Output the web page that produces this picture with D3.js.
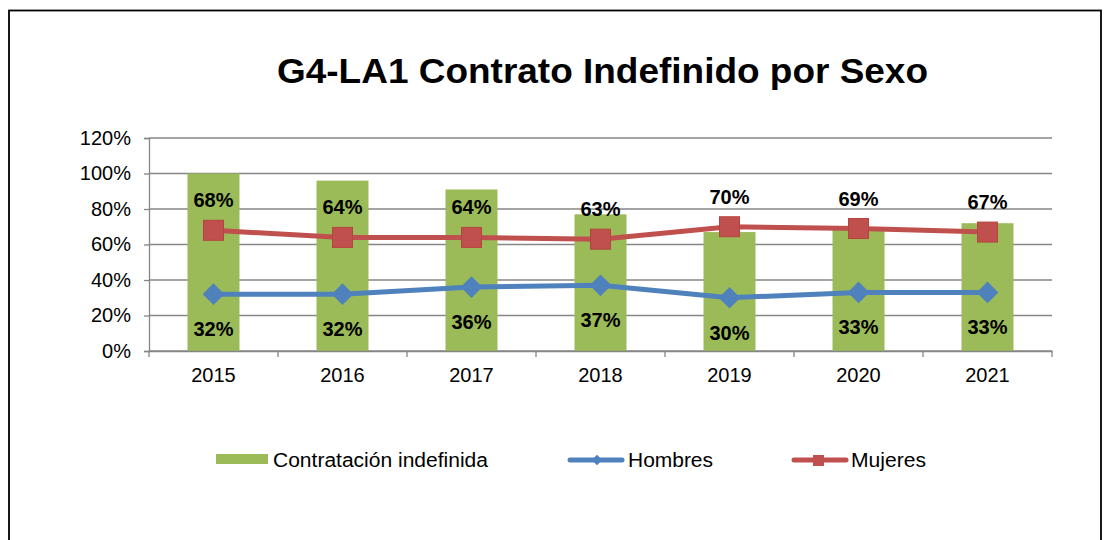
<!DOCTYPE html>
<html><head><meta charset="utf-8">
<script src="https://cdn.jsdelivr.net/npm/d3@7"></script>
<style>body{margin:0;background:#fff}svg{display:block;font-family:"Liberation Sans",Arial,sans-serif}</style>
</head><body><svg id="c" width="1105" height="540"></svg>
<script>
const years = ["2015","2016","2017","2018","2019","2020","2021"];
const contratacion = [1.00,0.96,0.91,0.77,0.67,0.69,0.72];
const hombres = [0.32,0.32,0.36,0.37,0.30,0.33,0.33];
const mujeres = [0.68,0.64,0.64,0.63,0.70,0.69,0.67];
const yTicks = [0,0.2,0.4,0.6,0.8,1.0,1.2];
const title = "G4-LA1 Contrato Indefinido por Sexo";
const legendNames = ["Contratación indefinida","Hombres","Mujeres"];

const svg = d3.select("#c");
const green="#9BBB59", blue="#4F81BD", red="#C0504D", grid="#868686";
svg.append("rect").attr("x",9).attr("y",10.5).attr("width",1092).attr("height",560)
  .attr("fill","none").attr("stroke","#000").attr("stroke-width",1.8);

svg.append("text").attr("x",277).attr("y",83)
  .attr("font-size",35).attr("font-weight","bold")
  .attr("textLength",651).attr("lengthAdjust","spacingAndGlyphs").text(title);

const L=149,R=1052,T=138,B=351;
const x = d3.scaleBand().domain(years).range([L,R]);
const y = d3.scaleLinear().domain([0,1.2]).range([B,T]);

const g = svg.append("g");
g.selectAll("line.grid").data(yTicks).join("line")
  .attr("x1",L).attr("x2",R).attr("y1",d=>y(d)).attr("y2",d=>y(d))
  .attr("stroke",grid).attr("stroke-width",1.3);

const ya = g.append("g").attr("transform",`translate(${L},0)`)
  .call(d3.axisLeft(y).tickValues(yTicks).tickFormat(d3.format(".0%")).tickSize(5).tickPadding(13));
ya.select(".domain").attr("stroke",grid).attr("stroke-width",1.3);
ya.selectAll(".tick line").attr("stroke",grid).attr("stroke-width",1.3);
ya.selectAll("text").attr("font-size",20).attr("fill","#000").attr("font-family","Liberation Sans, Arial, sans-serif");

// bars
g.selectAll("rect.bar").data(contratacion).join("rect")
  .attr("x",(d,i)=>x(years[i])+x.bandwidth()/2-26).attr("width",52)
  .attr("y",d=>y(d)).attr("height",d=>B-y(d)).attr("fill",green);

// x axis
const xa = g.append("g").attr("transform",`translate(0,${B})`)
  .call(d3.axisBottom(x).tickSize(0).tickPadding(17));
xa.select(".domain").attr("stroke",grid).attr("stroke-width",1.3);
xa.selectAll("text").attr("font-size",20).attr("fill","#000").attr("font-family","Liberation Sans, Arial, sans-serif");
const bounds = years.map(v=>x(v)).concat([R]);
g.selectAll("line.xt").data(bounds).join("line")
  .attr("x1",d=>d).attr("x2",d=>d).attr("y1",B).attr("y2",B+6)
  .attr("stroke",grid).attr("stroke-width",1.3);

const cx = i=>x(years[i])+x.bandwidth()/2;
const line = d3.line().x((d,i)=>cx(i)).y(d=>y(d));
g.append("path").datum(hombres).attr("d",line).attr("fill","none").attr("stroke",blue).attr("stroke-width",5);
g.append("path").datum(mujeres).attr("d",line).attr("fill","none").attr("stroke",red).attr("stroke-width",5);

g.selectAll("path.dia").data(hombres).join("path")
  .attr("d",d3.symbol(d3.symbolDiamond2,300)())
  .attr("transform",(d,i)=>`translate(${cx(i)},${y(d)})`).attr("fill",blue);
g.selectAll("rect.sq").data(mujeres).join("rect")
  .attr("x",(d,i)=>cx(i)-10).attr("y",d=>y(d)-10).attr("width",20).attr("height",20)
  .attr("fill",red).attr("stroke","#B5433F").attr("stroke-width",1);

const fmt = d3.format(".0%");
g.selectAll("text.lm").data(mujeres).join("text")
  .attr("x",(d,i)=>cx(i)).attr("y",d=>y(d)-23).attr("text-anchor","middle")
  .attr("font-size",20).attr("font-weight","bold").text(d=>fmt(d));
g.selectAll("text.lh").data(hombres).join("text")
  .attr("x",(d,i)=>cx(i)).attr("y",d=>y(d)+42).attr("text-anchor","middle")
  .attr("font-size",20).attr("font-weight","bold").text(d=>fmt(d));

// legend
const lg = svg.append("g").attr("font-size",20);
lg.append("rect").attr("x",216).attr("y",454).attr("width",52).attr("height",10).attr("fill",green);
lg.append("text").attr("x",273).attr("y",467).attr("textLength",215).attr("lengthAdjust","spacingAndGlyphs").text(legendNames[0]);
lg.append("line").attr("x1",570).attr("x2",622).attr("y1",460).attr("y2",460).attr("stroke",blue).attr("stroke-width",5).attr("stroke-linecap","round");
lg.append("path").attr("d",d3.symbol(d3.symbolDiamond2,70)()).attr("transform","translate(597,460)").attr("fill",blue);
lg.append("text").attr("x",628).attr("y",467).attr("textLength",85).attr("lengthAdjust","spacingAndGlyphs").text(legendNames[1]);
lg.append("line").attr("x1",794).attr("x2",846).attr("y1",460).attr("y2",460).attr("stroke",red).attr("stroke-width",5).attr("stroke-linecap","round");
lg.append("rect").attr("x",813).attr("y",455).attr("width",11).attr("height",11).attr("fill",red);
lg.append("text").attr("x",851).attr("y",467).attr("textLength",75).attr("lengthAdjust","spacingAndGlyphs").text(legendNames[2]);
</script></body></html>
